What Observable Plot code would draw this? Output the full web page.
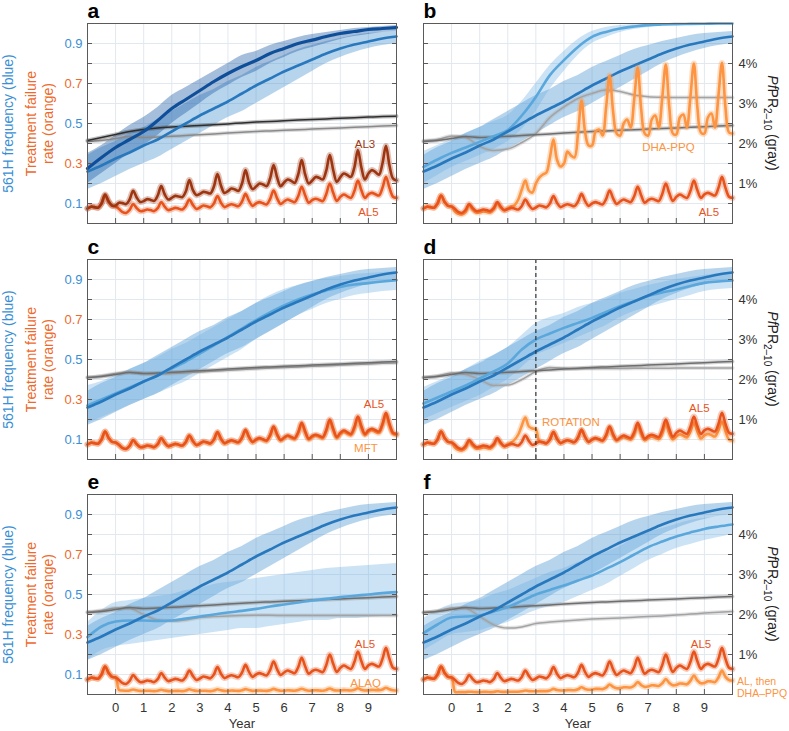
<!DOCTYPE html>
<html><head><meta charset="utf-8">
<script src="https://cdn.jsdelivr.net/npm/d3@7"></script>
<script src="https://cdn.jsdelivr.net/npm/@observablehq/plot@0.6"></script>
<style>
body{margin:0;background:#fff;}
#chart{position:relative;width:789px;height:731px;font-family:"Liberation Sans",Arial,sans-serif;}
#chart svg{position:absolute;overflow:visible;}
</style></head><body><div id="chart"></div>
<script>
// ---------- categories / ticks ----------
const yearsHalf = [-1,-0.5,0,0.5,1,1.5,2,2.5,3,3.5,4,4.5,5,5.5,6,6.5,7,7.5,8,8.5,9,9.5,10];
const yearTicks = [0,1,2,3,4,5,6,7,8,9];
const minorTicks = [0.1,0.2,0.3,0.4,0.5,0.6,0.7,0.8,0.9];
const leftTicksBlue = [0.1,0.5,0.9];
const leftTicksOrange = [0.3,0.7];
const pctTicks = [0.2,0.4,0.6,0.8];
const pctLabels = ["1%","2%","3%","4%"];

// ---------- 561H frequency (blue), per half year ----------
const blueAL5   = [0.26,0.29,0.325,0.355,0.39,0.42,0.46,0.5,0.54,0.575,0.61,0.65,0.69,0.725,0.76,0.79,0.82,0.85,0.875,0.895,0.91,0.925,0.935];
const blueAL5Lo = [0.17,0.2,0.235,0.27,0.3,0.33,0.37,0.41,0.45,0.49,0.53,0.56,0.6,0.64,0.68,0.72,0.76,0.8,0.83,0.855,0.875,0.89,0.9];
const blueAL5Hi = [0.34,0.38,0.41,0.45,0.48,0.52,0.56,0.6,0.64,0.67,0.71,0.74,0.78,0.81,0.84,0.87,0.89,0.91,0.925,0.94,0.95,0.955,0.96];
const blueAL3   = [0.275,0.33,0.38,0.42,0.46,0.515,0.575,0.62,0.665,0.71,0.75,0.785,0.815,0.85,0.875,0.9,0.917,0.935,0.95,0.96,0.97,0.975,0.98];
const blueAL3Lo = [0.2,0.25,0.3,0.35,0.39,0.44,0.5,0.55,0.6,0.65,0.69,0.73,0.76,0.8,0.83,0.86,0.88,0.9,0.92,0.935,0.945,0.955,0.96];
const blueAL3Hi = [0.35,0.39,0.44,0.49,0.53,0.58,0.64,0.68,0.72,0.76,0.8,0.84,0.86,0.89,0.91,0.93,0.945,0.955,0.965,0.975,0.98,0.985,0.99];
const blueDHA   = [0.283,0.32,0.353,0.38,0.408,0.437,0.467,0.54,0.633,0.742,0.817,0.883,0.933,0.958,0.975,0.985,0.992,0.995,0.997,0.998,0.999,1.0,1.0];
const blueDHALo = [0.2,0.24,0.28,0.31,0.34,0.37,0.41,0.47,0.56,0.67,0.76,0.84,0.9,0.93,0.955,0.97,0.98,0.99,0.993,0.996,0.997,0.998,0.998];
const blueDHAHi = [0.36,0.39,0.42,0.45,0.48,0.51,0.54,0.61,0.7,0.79,0.86,0.92,0.96,0.98,0.99,0.995,1,1,1,1,1,1,1];
const blueMFT   = [0.27,0.3,0.33,0.36,0.39,0.42,0.455,0.49,0.53,0.57,0.613,0.655,0.697,0.735,0.77,0.8,0.825,0.845,0.863,0.875,0.882,0.89,0.897];
const blueMFTLo = [0.18,0.21,0.24,0.27,0.3,0.33,0.36,0.39,0.43,0.47,0.51,0.55,0.6,0.64,0.68,0.72,0.75,0.78,0.8,0.82,0.83,0.84,0.845];
const blueMFTHi = [0.37,0.39,0.42,0.45,0.48,0.51,0.55,0.58,0.62,0.66,0.7,0.74,0.78,0.82,0.85,0.87,0.89,0.905,0.915,0.925,0.93,0.935,0.94];
const blueROT   = [0.28,0.31,0.34,0.37,0.405,0.44,0.48,0.55,0.6,0.63,0.658,0.683,0.708,0.738,0.767,0.792,0.817,0.835,0.85,0.868,0.883,0.89,0.895];
const blueROTLo = [0.2,0.23,0.26,0.29,0.32,0.36,0.4,0.46,0.52,0.55,0.58,0.61,0.64,0.67,0.71,0.74,0.76,0.78,0.8,0.82,0.84,0.85,0.855];
const blueROTHi = [0.36,0.39,0.42,0.45,0.49,0.52,0.56,0.62,0.68,0.71,0.73,0.76,0.78,0.8,0.83,0.85,0.87,0.885,0.9,0.91,0.92,0.93,0.935];
const blueALAQ   = [0.287,0.34,0.365,0.37,0.37,0.368,0.37,0.38,0.39,0.4,0.41,0.418,0.428,0.44,0.45,0.46,0.47,0.478,0.487,0.494,0.5,0.507,0.512];
const blueALAQLo = [0.17,0.22,0.24,0.25,0.26,0.27,0.28,0.29,0.3,0.31,0.32,0.33,0.33,0.34,0.35,0.36,0.37,0.37,0.38,0.38,0.385,0.39,0.395];
const blueALAQHi = [0.36,0.42,0.46,0.47,0.48,0.49,0.5,0.52,0.53,0.55,0.56,0.57,0.58,0.59,0.6,0.61,0.62,0.63,0.635,0.64,0.645,0.65,0.655];
const blueALDHA   = [0.307,0.35,0.385,0.39,0.395,0.415,0.437,0.468,0.5,0.523,0.545,0.57,0.595,0.628,0.662,0.7,0.737,0.765,0.79,0.81,0.828,0.84,0.85];
const blueALDHALo = [0.22,0.26,0.3,0.31,0.32,0.34,0.36,0.39,0.42,0.44,0.46,0.49,0.52,0.55,0.59,0.63,0.67,0.7,0.73,0.75,0.77,0.785,0.8];
const blueALDHAHi = [0.38,0.42,0.45,0.46,0.47,0.5,0.52,0.55,0.58,0.61,0.63,0.66,0.68,0.71,0.74,0.78,0.81,0.83,0.85,0.87,0.88,0.89,0.9];

// ---------- PfPR2-10 (gray), in left-axis units (value*5 = %) ----------
const grayAL5  = [0.41,0.415,0.425,0.435,0.43,0.432,0.436,0.44,0.444,0.448,0.452,0.456,0.46,0.463,0.466,0.469,0.472,0.475,0.478,0.481,0.484,0.487,0.49];
const grayAL3  = [0.415,0.43,0.445,0.46,0.47,0.477,0.482,0.486,0.49,0.494,0.498,0.503,0.507,0.51,0.514,0.517,0.52,0.523,0.526,0.529,0.532,0.535,0.537];
const grayDHA  = [0.413,0.42,0.437,0.43,0.385,0.365,0.372,0.405,0.45,0.53,0.583,0.625,0.65,0.667,0.66,0.642,0.634,0.631,0.63,0.63,0.63,0.63,0.63];
const grayMFT  = [0.41,0.418,0.43,0.437,0.43,0.427,0.43,0.434,0.438,0.442,0.446,0.45,0.454,0.457,0.46,0.463,0.466,0.469,0.472,0.475,0.478,0.481,0.483];
const grayROT  = [0.41,0.418,0.432,0.425,0.4,0.37,0.372,0.4,0.44,0.46,0.456,0.454,0.455,0.455,0.455,0.456,0.456,0.456,0.457,0.457,0.457,0.458,0.458];
const grayALAQ = [0.412,0.42,0.432,0.43,0.4,0.372,0.367,0.373,0.385,0.39,0.393,0.395,0.396,0.396,0.395,0.395,0.395,0.395,0.395,0.395,0.395,0.395,0.395];
const grayALDHA= [0.41,0.418,0.432,0.43,0.39,0.348,0.332,0.338,0.355,0.362,0.368,0.373,0.377,0.38,0.382,0.386,0.39,0.393,0.397,0.402,0.407,0.411,0.415];

// ---------- treatment failure (orange): one row per year (-1..9), 8 samples per year, plus value at year 10 ----------
const tfAL5 = [
 [0.075,0.084,0.082,0.079,0.1,0.14,0.108,0.088],
 [0.085,0.072,0.057,0.053,0.068,0.097,0.077,0.062],
 [0.064,0.07,0.067,0.062,0.077,0.107,0.084,0.067],
 [0.072,0.078,0.074,0.07,0.088,0.12,0.093,0.073],
 [0.08,0.09,0.086,0.081,0.1,0.137,0.104,0.082],
 [0.09,0.096,0.091,0.087,0.11,0.148,0.113,0.088],
 [0.1,0.107,0.101,0.095,0.122,0.165,0.126,0.098],
 [0.11,0.12,0.113,0.107,0.136,0.183,0.14,0.104],
 [0.117,0.124,0.118,0.112,0.148,0.2,0.152,0.113],
 [0.133,0.145,0.136,0.128,0.162,0.215,0.166,0.128],
 [0.146,0.153,0.146,0.14,0.178,0.233,0.178,0.134]];
const tfAL5End = 0.128;
const tfAL3 = [
 [0.075,0.084,0.082,0.079,0.1,0.145,0.112,0.09],
 [0.09,0.104,0.102,0.097,0.12,0.163,0.13,0.108],
 [0.112,0.122,0.118,0.113,0.14,0.187,0.145,0.12],
 [0.128,0.138,0.135,0.132,0.16,0.217,0.168,0.142],
 [0.148,0.158,0.155,0.15,0.185,0.247,0.19,0.153],
 [0.162,0.175,0.17,0.163,0.2,0.267,0.205,0.172],
 [0.185,0.2,0.195,0.187,0.225,0.292,0.23,0.187],
 [0.205,0.22,0.213,0.203,0.245,0.317,0.245,0.2],
 [0.215,0.233,0.228,0.22,0.265,0.342,0.265,0.208],
 [0.232,0.25,0.242,0.233,0.28,0.367,0.28,0.22],
 [0.25,0.267,0.257,0.244,0.3,0.388,0.29,0.225]];
const tfAL3End = 0.215;
const tfDHA = [
 [0.075,0.084,0.082,0.079,0.1,0.14,0.108,0.088],
 [0.085,0.06,0.048,0.046,0.058,0.09,0.07,0.055],
 [0.056,0.06,0.058,0.055,0.07,0.1,0.08,0.065],
 [0.075,0.085,0.093,0.12,0.17,0.215,0.165,0.155],
 [0.2,0.23,0.245,0.255,0.33,0.42,0.32,0.285],
 [0.3,0.36,0.34,0.33,0.45,0.615,0.46,0.39],
 [0.39,0.46,0.47,0.44,0.58,0.74,0.56,0.45],
 [0.44,0.5,0.52,0.48,0.62,0.78,0.57,0.45],
 [0.44,0.52,0.54,0.48,0.63,0.795,0.58,0.45],
 [0.445,0.53,0.545,0.48,0.63,0.8,0.58,0.455],
 [0.45,0.53,0.55,0.48,0.64,0.803,0.58,0.455]];
const tfDHAEnd = 0.45;
const tfMFT = [
 [0.075,0.084,0.082,0.079,0.1,0.14,0.108,0.088],
 [0.085,0.073,0.058,0.054,0.068,0.096,0.076,0.062],
 [0.063,0.069,0.066,0.061,0.076,0.105,0.083,0.066],
 [0.071,0.077,0.073,0.069,0.086,0.118,0.091,0.072],
 [0.079,0.088,0.084,0.079,0.098,0.134,0.102,0.08],
 [0.088,0.094,0.089,0.085,0.107,0.145,0.11,0.086],
 [0.097,0.104,0.098,0.092,0.118,0.16,0.122,0.095],
 [0.106,0.116,0.109,0.103,0.131,0.176,0.135,0.1],
 [0.112,0.119,0.113,0.107,0.142,0.192,0.146,0.108],
 [0.127,0.138,0.13,0.122,0.155,0.206,0.158,0.122],
 [0.139,0.146,0.139,0.133,0.17,0.222,0.17,0.128]];
const tfMFTEnd = 0.122;
const tfROT = [
 [0.075,0.084,0.082,0.079,0.1,0.14,0.108,0.088],
 [0.085,0.06,0.048,0.046,0.058,0.09,0.07,0.055],
 [0.056,0.06,0.058,0.055,0.07,0.1,0.08,0.065],
 [0.075,0.085,0.1,0.125,0.17,0.21,0.165,0.155],
 [0.15,0.09,0.086,0.081,0.1,0.137,0.104,0.082],
 [0.09,0.096,0.091,0.087,0.11,0.148,0.113,0.088],
 [0.098,0.104,0.1,0.093,0.117,0.16,0.12,0.095],
 [0.105,0.112,0.106,0.1,0.125,0.17,0.128,0.097],
 [0.108,0.114,0.108,0.102,0.13,0.178,0.132,0.1],
 [0.115,0.125,0.118,0.11,0.14,0.185,0.14,0.105],
 [0.12,0.128,0.122,0.115,0.145,0.19,0.14,0.1]];
const tfROTEnd = 0.095;
const tfALAQ = [
 [0.075,0.084,0.082,0.079,0.1,0.14,0.108,0.088],
 [0.085,0.022,0.02,0.019,0.02,0.025,0.021,0.018],
 [0.018,0.019,0.018,0.017,0.019,0.024,0.02,0.017],
 [0.017,0.018,0.018,0.017,0.02,0.026,0.021,0.018],
 [0.018,0.019,0.018,0.017,0.02,0.026,0.021,0.018],
 [0.018,0.02,0.019,0.018,0.021,0.027,0.022,0.018],
 [0.019,0.02,0.019,0.018,0.021,0.028,0.022,0.019],
 [0.019,0.021,0.02,0.019,0.022,0.029,0.023,0.019],
 [0.02,0.021,0.02,0.019,0.023,0.03,0.023,0.02],
 [0.02,0.022,0.021,0.02,0.024,0.031,0.024,0.02],
 [0.021,0.023,0.022,0.021,0.025,0.034,0.026,0.021]];
const tfALAQEnd = 0.02;
const tfALDHA = [
 [0.075,0.084,0.082,0.079,0.1,0.14,0.108,0.088],
 [0.085,0.013,0.012,0.012,0.012,0.014,0.013,0.012],
 [0.012,0.013,0.013,0.012,0.013,0.016,0.014,0.013],
 [0.013,0.014,0.014,0.014,0.016,0.02,0.017,0.016],
 [0.016,0.017,0.017,0.017,0.02,0.028,0.022,0.02],
 [0.02,0.022,0.022,0.021,0.026,0.036,0.028,0.024],
 [0.025,0.028,0.028,0.027,0.034,0.05,0.038,0.031],
 [0.032,0.036,0.036,0.035,0.044,0.062,0.047,0.038],
 [0.04,0.046,0.045,0.043,0.056,0.077,0.058,0.046],
 [0.048,0.055,0.054,0.051,0.068,0.095,0.07,0.056],
 [0.058,0.066,0.065,0.062,0.085,0.12,0.088,0.072]];
const tfALDHAEnd = 0.07;

// ---------- colours / styles ----------
const FONT = '"Liberation Sans", Arial, sans-serif';
const GRID = "#e2e8ef";
const FRAME = "#5a5a5a";
const C = {
  blueMain: "#2878bd", blueAlt: "#5aa7dc", blueAL3: "#0f4f99",
  bandMain: "#4b93d2", bandAlt: "#6aaee2", bandAL3: "#1f5ca6",
  orMain: "#e8531c", orAlt: "#fc9442", orAL3: "#9e3511",
  grMain: "#6e6e6e", grAlt: "#a3a3a3", grAL3: "#2e2e2e",
  txtBlue: "#3a8fd4", txtOrange: "#ee6a2c"
};

// ---------- helpers to build tables from the arrays ----------
const series = vals => yearsHalf.map((x, i) => ({x, y: vals[i]}));
const bandRows = (lo, hi) => yearsHalf.map((x, i) => ({x, lo: lo[i], hi: hi[i]}));
const seasonal = (rows, end) => rows.flatMap((r, yi) => r.map((v, k) => ({x: -1 + yi + k / 8, y: v}))).concat([{x: 10, y: end}]);

const panels = [
  {letter: "a", col: 0, row: 0,
   bands: [[blueAL5Lo, blueAL5Hi, C.bandMain, 0.4], [blueAL3Lo, blueAL3Hi, C.bandAL3, 0.4]],
   grays: [[grayAL5, "#8a8a8a"], [grayAL3, C.grAL3]],
   blues: [[blueAL5, C.blueMain, 2.6], [blueAL3, C.blueAL3, 3.2]],
   oranges: [[tfAL5, tfAL5End, C.orMain], [tfAL3, tfAL3End, C.orAL3]],
   labels: [[8.88, 0.40, "AL3", C.orAL3, "middle", 11.5], [9.0, 0.06, "AL5", C.orMain, "middle", 11.5]]},
  {letter: "b", col: 1, row: 0,
   bands: [[blueAL5Lo, blueAL5Hi, C.bandMain, 0.4], [blueDHALo, blueDHAHi, C.bandAlt, 0.35]],
   grays: [[grayDHA, C.grAlt], [grayAL5, C.grMain]],
   blues: [[blueDHA, C.blueAlt, 2.6], [blueAL5, C.blueMain, 2.6]],
   oranges: [[tfDHA, tfDHAEnd, C.orAlt], [tfAL5, tfAL5End, C.orMain]],
   labels: [[7.72, 0.386, "DHA-PPQ", C.orAlt, "middle", 11.5], [9.16, 0.06, "AL5", C.orMain, "middle", 11.5]]},
  {letter: "c", col: 0, row: 1,
   bands: [[blueAL5Lo, blueAL5Hi, C.bandMain, 0.4], [blueMFTLo, blueMFTHi, C.bandAlt, 0.35]],
   grays: [[grayMFT, C.grAlt], [grayAL5, C.grMain]],
   blues: [[blueMFT, C.blueAlt, 2.6], [blueAL5, C.blueMain, 2.6]],
   oranges: [[tfMFT, tfMFTEnd, C.orAlt], [tfAL5, tfAL5End, C.orMain]],
   labels: [[9.2, 0.28, "AL5", C.orMain, "middle", 11.5], [8.91, 0.06, "MFT", C.orAlt, "middle", 11.5]]},
  {letter: "d", col: 1, row: 1, rule: 3,
   bands: [[blueAL5Lo, blueAL5Hi, C.bandMain, 0.4], [blueROTLo, blueROTHi, C.bandAlt, 0.35]],
   grays: [[grayROT, C.grAlt], [grayAL5, C.grMain]],
   blues: [[blueROT, C.blueAlt, 2.6], [blueAL5, C.blueMain, 2.6]],
   oranges: [[tfROT, tfROTEnd, C.orAlt], [tfAL5, tfAL5End, C.orMain]],
   labels: [[3.22, 0.19, "ROTATION", C.orAlt, "start", 11.5], [8.82, 0.26, "AL5", C.orMain, "middle", 11.5]]},
  {letter: "e", col: 0, row: 2,
   bands: [[blueAL5Lo, blueAL5Hi, C.bandMain, 0.4], [blueALAQLo, blueALAQHi, C.bandAlt, 0.35]],
   grays: [[grayALAQ, C.grAlt], [grayAL5, C.grMain]],
   blues: [[blueALAQ, C.blueAlt, 2.6], [blueAL5, C.blueMain, 2.6]],
   oranges: [[tfALAQ, tfALAQEnd, C.orAlt], [tfAL5, tfAL5End, C.orMain]],
   labels: [[8.88, 0.256, "AL5", C.orMain, "middle", 11.5], [8.9, 0.06, "ALAQ", C.orAlt, "middle", 11.5]]},
  {letter: "f", col: 1, row: 2,
   bands: [[blueAL5Lo, blueAL5Hi, C.bandMain, 0.4], [blueALDHALo, blueALDHAHi, C.bandAlt, 0.35]],
   grays: [[grayALDHA, C.grAlt], [grayAL5, C.grMain]],
   blues: [[blueALDHA, C.blueAlt, 2.6], [blueAL5, C.blueMain, 2.6]],
   oranges: [[tfALDHA, tfALDHAEnd, C.orAlt], [tfAL5, tfAL5End, C.orMain]],
   labels: [[8.88, 0.256, "AL5", C.orMain, "middle", 11.5], [10.16, 0.037, "AL, then\nDHA–PPQ", C.orAlt, "start", 10.5]]}
];

const rowTop = [0, 236, 471];

function buildPanel(p) {
  const isLeft = p.col === 0, isBottom = p.row === 2;
  const width = isLeft ? 400 : 389;
  const mL = isLeft ? 87 : 23, mR = isLeft ? 4 : 57;
  const mB = isBottom ? 37 : (p.row === 0 ? 13 : 12);
  const marks = [
    Plot.gridX(yearTicks, {stroke: GRID, strokeOpacity: 1}),
    Plot.gridY(minorTicks, {stroke: GRID, strokeOpacity: 1})
  ];
  for (const [lo, hi, fill, op] of p.bands)
    marks.push(Plot.areaY(bandRows(lo, hi), {x: "x", y1: "lo", y2: "hi", fill, fillOpacity: op, curve: "monotone-x"}));
  for (const [vals, col] of p.grays) {
    marks.push(Plot.line(series(vals), {x: "x", y: "y", stroke: col, strokeOpacity: 0.3, strokeWidth: 4, curve: "monotone-x"}));
    marks.push(Plot.line(series(vals), {x: "x", y: "y", stroke: col, strokeWidth: 1.5, curve: "monotone-x"}));
  }
  for (const [vals, col, w] of p.blues)
    marks.push(Plot.line(series(vals), {x: "x", y: "y", stroke: col, strokeWidth: w, curve: "monotone-x"}));
  for (const [rows, end, col] of p.oranges) {
    marks.push(Plot.line(seasonal(rows, end), {x: "x", y: "y", stroke: col, strokeOpacity: 0.3, strokeWidth: 6, curve: "catmull-rom"}));
    marks.push(Plot.line(seasonal(rows, end), {x: "x", y: "y", stroke: col, strokeWidth: 2.6, curve: "catmull-rom"}));
  }
  if (p.rule != null)
    marks.push(Plot.ruleX([p.rule], {stroke: "#333", strokeWidth: 1.2, strokeDasharray: "4,3"}));
  for (const [x, y, t, col, anchor, fs] of p.labels)
    marks.push(Plot.text([{x, y, t}], {x: "x", y: "y", text: "t", fill: col, fontSize: fs, textAnchor: anchor, lineHeight: 1.15}));
  // inward tick marks on all sides (no labels)
  marks.push(Plot.axisX(yearTicks, {anchor: "bottom", tickSize: -5, stroke: FRAME, tickFormat: () => "", label: null}));
  marks.push(Plot.axisY(minorTicks, {anchor: "left", tickSize: -5, stroke: FRAME, tickFormat: () => "", label: null}));
  marks.push(Plot.axisY(minorTicks, {anchor: "right", tickSize: -5, stroke: FRAME, tickFormat: () => "", label: null}));
  if (isBottom) {
    marks.push(Plot.text(yearTicks, {x: d => d, text: d => String(d), frameAnchor: "bottom", lineAnchor: "middle", dy: 13, fill: "#333", fontSize: 13}));
    marks.push(Plot.text(["Year"], {frameAnchor: "bottom", lineAnchor: "middle", dy: 29, fill: "#333", fontSize: 13, textAnchor: "middle"}));
  }
  if (isLeft) {
    marks.push(Plot.axisY(leftTicksBlue, {anchor: "left", tickSize: 0, tickPadding: 5, fill: C.txtBlue, fontSize: 13, tickFormat: d => d.toFixed(1), label: null}));
    marks.push(Plot.axisY(leftTicksOrange, {anchor: "left", tickSize: 0, tickPadding: 5, fill: C.txtOrange, fontSize: 13, tickFormat: d => d.toFixed(1), label: null}));
    marks.push(Plot.text(["561H frequency (blue)"], {frameAnchor: "left", textAnchor: "middle", rotate: -90, dx: -79, fill: C.txtBlue, fontSize: 14}));
    marks.push(Plot.text(["Treatment failure"], {frameAnchor: "left", textAnchor: "middle", rotate: -90, dx: -56, fill: C.txtOrange, fontSize: 14}));
    marks.push(Plot.text(["rate (orange)"], {frameAnchor: "left", textAnchor: "middle", rotate: -90, dx: -39, fill: C.txtOrange, fontSize: 14}));
  } else {
    marks.push(Plot.axisY(pctTicks, {anchor: "right", tickSize: 0, tickPadding: 6, fill: "#333", fontSize: 13,
      tickFormat: d => pctLabels[pctTicks.indexOf(d)], label: null}));
  }
  marks.push(Plot.frame({stroke: FRAME, strokeWidth: 1}));
  marks.push(Plot.text([p.letter], {frameAnchor: "top-left", dy: -6, lineAnchor: "bottom", textAnchor: "start", fontSize: 21, fontWeight: "bold", fill: "#000"}));

  const svg = Plot.plot({
    width, height: 23 + 200 + mB,
    marginLeft: mL, marginRight: mR, marginTop: 23, marginBottom: mB,
    x: {domain: [-1, 10]},
    y: {domain: [0, 1]},
    style: {fontFamily: FONT, fontSize: "13px", background: "transparent", overflow: "visible"},
    marks
  });
  if (!isLeft) {
    const t = d3.select(svg).append("text")
      .attr("transform", `translate(${768 - 400},123) rotate(90)`)
      .attr("text-anchor", "middle").attr("font-size", 14).attr("fill", "#222")
      .attr("font-family", FONT);
    t.append("tspan").attr("font-style", "italic").text("Pf");
    t.append("tspan").text("PR");
    t.append("tspan").attr("font-size", 10).attr("dy", 4).text("2–10");
    t.append("tspan").attr("dy", -4).text(" (gray)");
  }
  svg.style.left = (isLeft ? 0 : 400) + "px";
  svg.style.top = rowTop[p.row] + "px";
  return svg;
}

const chart = document.getElementById("chart");
for (const p of panels) chart.appendChild(buildPanel(p));
</script></body></html>
